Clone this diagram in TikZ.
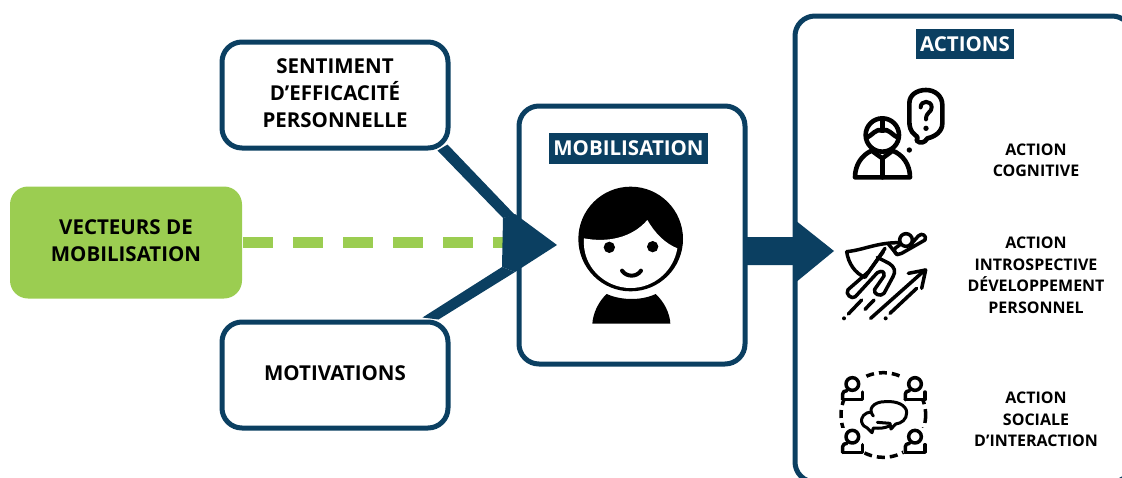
\documentclass[tikz,border=0pt]{standalone}
\usepackage{fontspec}
\setmainfont{Open Sans}
\usetikzlibrary{calc}
\definecolor{navy}{HTML}{0B3F61}
\definecolor{leaf}{HTML}{9BCD51}
\tikzset{
 x=1pt,y=-1pt,
 panel/.style={draw=navy,line width=5pt,rounded corners=20pt,fill=white,inner sep=0pt},
 biglabel/.style={font=\fontsize{20.5}{27}\selectfont\bfseries,align=center,text=black,inner sep=0pt},
 smalllabel/.style={font=\fontsize{16}{21.5}\selectfont\bfseries,align=center,text=black,inner sep=0pt},
 tag/.style={fill=navy,text=white,font=\fontsize{20.5}{24}\selectfont\bfseries,inner sep=0pt,align=center},
 icon/.style={line width=4.6pt,line cap=round,line join=round,draw=black},
 iconthin/.style={line width=3.5pt,line cap=round,line join=round,draw=black},
 dashlink/.style={draw=leaf,line width=11pt,dash pattern=on 30pt off 20pt},
 thicklink/.style={fill=navy,draw=none}
}
\begin{document}
\begin{tikzpicture}
\useasboundingbox (0,0) rectangle (1122,477);
\clip (0,0) rectangle (1122,477);
\node[panel,minimum width=337,minimum height=466] (actions) at (963.5,249) {};
\node[fill=leaf,rounded corners=18pt,minimum width=232,minimum height=112,inner sep=0pt] (vecteurs) at (126,242.5) {};
\node[biglabel] (vecteurstxt) at (126,240.5) {VECTEURS DE\\MOBILISATION};
\node[panel,minimum width=226,minimum height=106] (sentiment) at (335,95) {};
\node[biglabel] (sentimenttxt) at (335,93) {SENTIMENT\\D’EFFICACITÉ\\PERSONNELLE};
\node[panel,minimum width=226,minimum height=106] (motivations) at (335,375) {};
\node[biglabel] (motivationstxt) at (335,373.5) {MOTIVATIONS};
\node[panel,minimum width=226,minimum height=258] (mobilisation) at (632,235) {};
% connectors
\coordinate (headtop) at (503,218);
\coordinate (headbot) at (502,267);
\coordinate (headtip) at (557,245);
\path[dashlink,draw] (vecteurs.east|-0,242) ++(1,0) -- (503,242);
\fill[thicklink] ($(sentiment.south east)+(-13,0)$) -- ($(sentiment.south east)+(-3,-6)$) -- (515,215) -- (headtop) -- cycle;
\fill[thicklink] ($(motivations.north east)+(-28,-2)$) -- ($(motivations.north east)+(-12,0)$) -- (515,272) -- (headbot) -- cycle;
\fill[thicklink] (headtop) -- (515,214) -- (headtip) -- (515,272) -- (headbot) -- cycle;
\fill[thicklink] (746,237) -- (795,237) -- (795,220) -- (834,251) -- (795,283) -- (795,265) -- (746,265) -- cycle;
% tags
\node[tag,minimum width=159,minimum height=31] (tagmob) at (628.5,148) {MOBILISATION};
\node[tag,minimum width=98,minimum height=30] (tagact) at (965,44) {ACTIONS};
\node[smalllabel] (a1) at (1036,160.5) {ACTION\\COGNITIVE};
\node[smalllabel] (a2) at (1036,275.5) {ACTION\\INTROSPECTIVE\\DÉVELOPPEMENT\\PERSONNEL};
\node[smalllabel] (a3) at (1036,419.5) {ACTION\\SOCIALE\\D’INTERACTION};
% person
\begin{scope}[shift={(560,170)},scale=1/3]
\fill[black] (212,207) circle[radius=157];
\fill[white] (72,205) .. controls (140,218) and (215,205) .. (262,150) .. controls (285,190) and (315,220) .. (352,235)
 .. controls (340,305) and (280,354) .. (212,354) .. controls (135,354) and (65,290) .. (72,205) -- cycle;
\fill[black] (148,232) circle[radius=17];
\fill[black] (278,230) circle[radius=17];
\draw[black,line width=4pt,line cap=round] (186,302) .. controls (200,322) and (230,322) .. (243,302);
\fill[black] (140,372) .. controls (185,392) and (245,392) .. (287,372) .. controls (312,395) and (330,430) .. (331,461) -- (97,461) .. controls (99,430) and (115,395) .. (140,372) -- cycle;
\end{scope}
% icon 1
\begin{scope}[shift={(820,70)},scale=1/3]
\draw[icon] (187,195) circle[radius=50];
\draw[icon] (140,203) .. controls (155,198) and (170,172) .. (187,182) .. controls (204,172) and (219,198) .. (234,203);
\draw[icon] (187,150) -- (187,180);
\draw[icon] (105,322) .. controls (105,285) and (125,255) .. (155,242) -- (187,265) -- (218,242) .. controls (250,255) and (270,285) .. (270,322) -- cycle;
\draw[icon] (187,265) -- (187,322);
\draw[icon] (268,100) .. controls (268,75) and (290,60) .. (318,60) .. controls (345,60) and (367,78) .. (367,105) -- (367,160) .. controls (367,185) and (345,200) .. (322,205) .. controls (315,218) and (300,222) .. (290,212) .. controls (295,205) and (293,200) .. (285,195) .. controls (272,185) and (268,170) .. (268,155) -- cycle;
\draw[iconthin,line width=4pt] (302,112) .. controls (302,90) and (335,90) .. (335,112) .. controls (335,128) and (318,125) .. (318,148);
\fill[black] (318,175) circle[radius=8];
\fill[black] (268,240) circle[radius=8];
\end{scope}
% icon 2
\begin{scope}[shift={(820,220)},scale=1/3]
\draw[iconthin] (80,95) .. controls (130,90) and (170,68) .. (235,68);
\draw[iconthin] (80,95) .. controls (85,130) and (105,160) .. (135,172) -- (195,85);
\draw[iconthin] (258,60) circle[radius=19];
\draw[iconthin] (240,74) -- (225,85) .. controls (218,98) and (232,108) .. (245,100) -- (315,60) .. controls (322,48) and (305,36) .. (295,48) -- (270,76);
\draw[iconthin] (205,72) -- (232,105);
\draw[iconthin] (172,112) -- (207,130) .. controls (224,140) and (228,155) .. (219,170) -- (192,220) .. controls (182,232) and (158,222) .. (164,208) -- (192,168) .. controls (194,155) and (187,150) .. (172,158) -- (106,230) .. controls (96,240) and (74,222) .. (84,209) -- (146,155) -- (190,95);
\draw[iconthin] (152,295) -- (315,150);
\draw[iconthin] (265,160) -- (317,150) -- (305,205);
\draw[iconthin] (210,280) -- (290,205);
\draw[iconthin] (85,282) -- (125,240);
\draw[iconthin] (135,268) -- (162,240);
\fill[black] (72,295) circle[radius=6];
\fill[black] (197,295) circle[radius=6];
\end{scope}
% icon 3
\begin{scope}[shift={(820,360)},scale=1/3]
\draw[iconthin,dash pattern=on 8pt off 5pt,line cap=butt] (190,165) circle[radius=127];
\foreach \px/\py in {97/72,285/72,97/230,285/230}{
 \fill[white] (\px-35,\py-25) rectangle (\px+35,\py+50);
 \draw[iconthin] (\px,\py) circle[radius=19];
 \draw[iconthin] (\px-29,\py+47) -- (\px-29,\py+30) .. controls (\px-29,\py+24) and (\px-24,\py+20) .. (\px-16,\py+20);
 \draw[iconthin] (\px+30,\py+24) -- (\px+30,\py+47) -- (\px-29,\py+47);
}
\draw[iconthin,line width=3pt] (160,168) .. controls (142,148) and (160,125) .. (195,125) .. controls (230,122) and (260,135) .. (260,158) .. controls (260,178) and (245,190) .. (227,192) -- (213,207) -- (210,190) -- (172,187);
\draw[iconthin,line width=3pt] (155,157) .. controls (132,155) and (122,175) .. (125,186) .. controls (128,196) and (135,202) .. (142,204) -- (156,218) -- (160,204) .. controls (180,206) and (195,204) .. (208,198);
\end{scope}
\end{tikzpicture}
\end{document}
